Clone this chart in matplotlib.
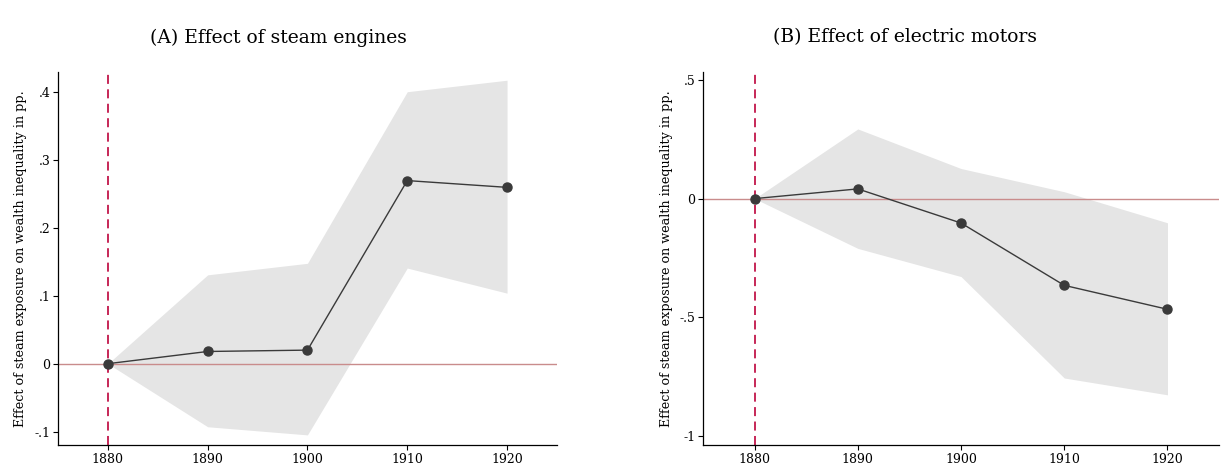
import matplotlib
matplotlib.use("Agg")
import matplotlib.pyplot as plt

# event-study estimates
years = [1880, 1890, 1900, 1910, 1920]

steam_coef = [0.0, 0.018, 0.020, 0.270, 0.260]
steam_lo = [0.0, -0.093, -0.105, 0.141, 0.104]
steam_hi = [0.0, 0.131, 0.148, 0.401, 0.418]

elec_coef = [0.0, 0.041, -0.103, -0.366, -0.467]
elec_lo = [0.0, -0.210, -0.329, -0.757, -0.828]
elec_hi = [0.0, 0.294, 0.127, 0.029, -0.102]

steam_yticks = [-0.1, 0, 0.1, 0.2, 0.3, 0.4]
steam_ylabels = ["-.1", "0", ".1", ".2", ".3", ".4"]
elec_yticks = [-1, -0.5, 0, 0.5]
elec_ylabels = ["-1", "-.5", "0", ".5"]

titles = ["(A) Effect of steam engines", "(B) Effect of electric motors"]
ylab = "Effect of steam exposure on wealth inequality in pp."

plt.rcParams["font.family"] = ["DejaVu Serif"]

fig = plt.figure(figsize=(12.23, 4.68), dpi=100)
ax1 = fig.add_axes([0.0474, 0.049, 0.408, 0.797])
ax2 = fig.add_axes([0.5748, 0.049, 0.4220, 0.797])


def panel(ax, coef, lo, hi, yticks, ylabels, ylim):
    ax.fill_between(years, lo, hi, color="#e5e5e5", linewidth=0, zorder=1)
    ax.axhline(0, color="#c98c8c", linewidth=1.0, zorder=2)
    ax.axvline(1880, color="#c2164a", linewidth=1.3, linestyle=(0, (5, 3)), zorder=2)
    ax.plot(years, coef, "-o", color="#3a3a3a", linewidth=1.0, markersize=6.5, zorder=3)
    ax.set_xlim(1875, 1925)
    ax.set_ylim(*ylim)
    ax.set_xticks(years)
    ax.set_xticklabels([str(y) for y in years])
    ax.set_yticks(yticks)
    ax.set_yticklabels(ylabels)
    for s in ["top", "right"]:
        ax.spines[s].set_visible(False)
    ax.spines["left"].set_linewidth(0.9)
    ax.spines["bottom"].set_linewidth(0.9)
    ax.tick_params(axis="both", length=3.5, width=0.8, labelsize=9, pad=2)
    ax.set_ylabel(ylab, fontsize=9.2, labelpad=5)


panel(ax1, steam_coef, steam_lo, steam_hi, steam_yticks, steam_ylabels, (-0.12, 0.43))
panel(ax2, elec_coef, elec_lo, elec_hi, elec_yticks, elec_ylabels, (-1.04, 0.534))

fig.text(0.228, 0.92, titles[0], fontsize=13.5, ha="center", va="center")
fig.text(0.740, 0.92, titles[1], fontsize=13.5, ha="center", va="center")

fig.savefig("out.png", dpi=100)
